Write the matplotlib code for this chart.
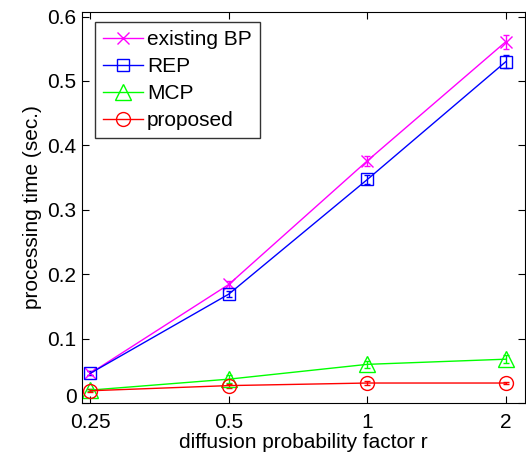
import matplotlib
matplotlib.use("Agg")
import matplotlib.pyplot as plt
import matplotlib.transforms as mtransforms

plt.rcParams['font.family'] = ['Liberation Sans', 'DejaVu Sans']

r_values = [0.25, 0.5, 1, 2]
tick_labels = ['0.25', '0.5', '1', '2']

existing_bp = [0.046, 0.184, 0.376, 0.561]
rep = [0.046, 0.169, 0.347, 0.530]
mcp = [0.020, 0.037, 0.060, 0.068]
proposed = [0.019, 0.027, 0.031, 0.031]

# small error bars
existing_bp_err = [0.003, 0.005, 0.008, 0.011]
rep_err = [0.003, 0.005, 0.007, 0.010]
mcp_err = [0.002, 0.006, 0.005, 0.006]
proposed_err = [0.002, 0.003, 0.003, 0.002]

fig = plt.figure(figsize=(5.26, 4.55), dpi=100)
ax = fig.add_axes([0.156, 0.1143, 0.842, 0.8593])

series = [
    ('existing BP', existing_bp, existing_bp_err, 'x', (1, 0, 1), 8),
    ('REP', rep, rep_err, 's', (0, 0, 1), 8.5),
    ('MCP', mcp, mcp_err, '^', (0, 1, 0), 11),
    ('proposed', proposed, proposed_err, 'o', (1, 0, 0), 10),
]

for name, vals, errs, mk, col, ms in series:
    ax.errorbar(r_values, vals, yerr=errs, color=col, marker=mk, markersize=ms,
                markerfacecolor='none', markeredgecolor=col, linewidth=1,
                capsize=2, elinewidth=1, label=name)

ax.set_xscale('log', base=2)
ax.set_xlim(0.24, 2.2)
ax.set_ylim(0, 0.607)
ax.set_xticks(r_values)
ax.set_xticklabels(tick_labels)
ax.minorticks_off()
ax.set_yticks([0, 0.1, 0.2, 0.3, 0.4, 0.5, 0.6])
ax.set_yticklabels(['0', '0.1', '0.2', '0.3', '0.4', '0.5', '0.6'])
ax.tick_params(direction='in', top=True, right=True, labelsize=15, length=5)
ax.tick_params(axis='x', pad=7)
ax.tick_params(axis='y', pad=4)

# nudge the "0" label up so it clears the x tick labels
zero_lbl = ax.get_yticklabels()[0]
zero_lbl.set_transform(zero_lbl.get_transform() +
                       mtransforms.ScaledTranslation(0, 7 / 100, fig.dpi_scale_trans))

ax.set_xlabel('diffusion probability factor r', fontsize=15, labelpad=1)
ax.set_ylabel('processing time (sec.)', fontsize=15, labelpad=4)

handles, labels = ax.get_legend_handles_labels()
handles = [h[0] for h in handles]
leg = ax.legend(handles, labels, loc='upper left', fontsize=15, frameon=True,
                fancybox=False, edgecolor='black', handlelength=1.9,
                bbox_to_anchor=(13 / 443, 1 - 10 / 391), borderaxespad=0,
                labelspacing=0.38, handletextpad=0.2, borderpad=0.4)
leg.get_frame().set_linewidth(1)

fig.savefig('out.png', dpi=100)
